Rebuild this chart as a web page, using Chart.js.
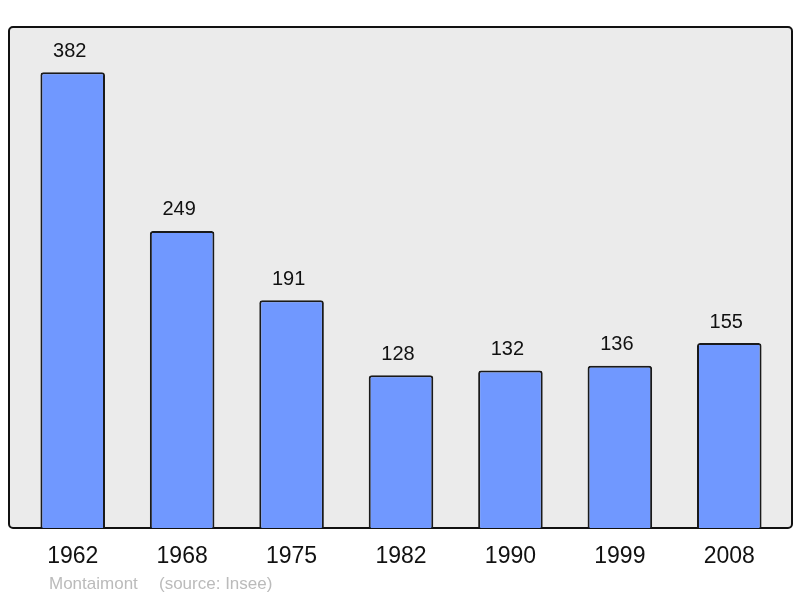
<!DOCTYPE html>
<html>
<head>
<meta charset="utf-8">
<script src="https://cdn.jsdelivr.net/npm/chart.js@4/dist/chart.umd.min.js"></script>
<style>
  html, body { margin: 0; padding: 0; background: #fff; }
  #wrap { width: 800px; height: 598px; }
</style>
</head>
<body>
<div id="wrap"><canvas id="chart" width="800" height="598"></canvas></div>
<script>
const years = ['1962', '1968', '1975', '1982', '1990', '1999', '2008'];
const population = [382, 249, 191, 128, 132, 136, 155];
const townName = 'Montaimont';
const sourceNote = '(source: Insee)';

const FONT = '"Liberation Sans", Arial, sans-serif';

// grey rounded panel behind the bars
const panelPlugin = {
  id: 'panel',
  beforeDatasetsDraw(chart) {
    const { ctx, chartArea: a } = chart;
    const x0 = 9, x1 = 792, y0 = a.top, y1 = a.bottom;
    ctx.save();
    ctx.beginPath();
    ctx.roundRect(x0, y0, x1 - x0, y1 - y0, 4);
    ctx.fillStyle = '#ebebeb';
    ctx.fill();
    ctx.lineWidth = 2;
    ctx.strokeStyle = '#111';
    ctx.stroke();
    ctx.restore();
  },
};

// value labels, year labels and footer
const labelPlugin = {
  id: 'labels',
  afterDatasetsDraw(chart) {
    const { ctx, chartArea: a } = chart;
    const xs = chart.scales.x;
    const meta = chart.getDatasetMeta(0);
    ctx.save();
    ctx.textAlign = 'center';
    ctx.textBaseline = 'middle';
    ctx.fillStyle = '#111';
    ctx.font = '20px ' + FONT;
    meta.data.forEach((bar, i) => {
      ctx.fillText(String(population[i]), bar.x - 3, bar.y - 21);
    });
    ctx.font = '23px ' + FONT;
    years.forEach((y, i) => {
      ctx.fillText(y, xs.getPixelForValue(i), a.bottom + 29);
    });
    ctx.textAlign = 'left';
    ctx.fillStyle = '#bbbbbb';
    ctx.font = '17px ' + FONT;
    ctx.fillText(townName, 49, 584);
    ctx.fillText(sourceNote, 159, 584);
    ctx.restore();
  },
};

new Chart(document.getElementById('chart'), {
  type: 'bar',
  data: {
    labels: years,
    datasets: [{
      data: population,
      backgroundColor: '#7098ff',
      borderColor: '#1a1a1a',
      borderWidth: 2,
      borderSkipped: 'bottom',
      borderRadius: { topLeft: 3, topRight: 3 },
      barPercentage: 0.59,
      categoryPercentage: 1,
    }],
  },
  options: {
    responsive: false,
    animation: false,
    layout: { padding: { left: 18, right: 16, top: 27, bottom: 70 } },
    plugins: { legend: { display: false }, tooltip: { enabled: false } },
    scales: {
      x: { display: false },
      y: { display: false, min: 0, max: 420 },
    },
  },
  plugins: [panelPlugin, labelPlugin],
});
</script>
</body>
</html>
